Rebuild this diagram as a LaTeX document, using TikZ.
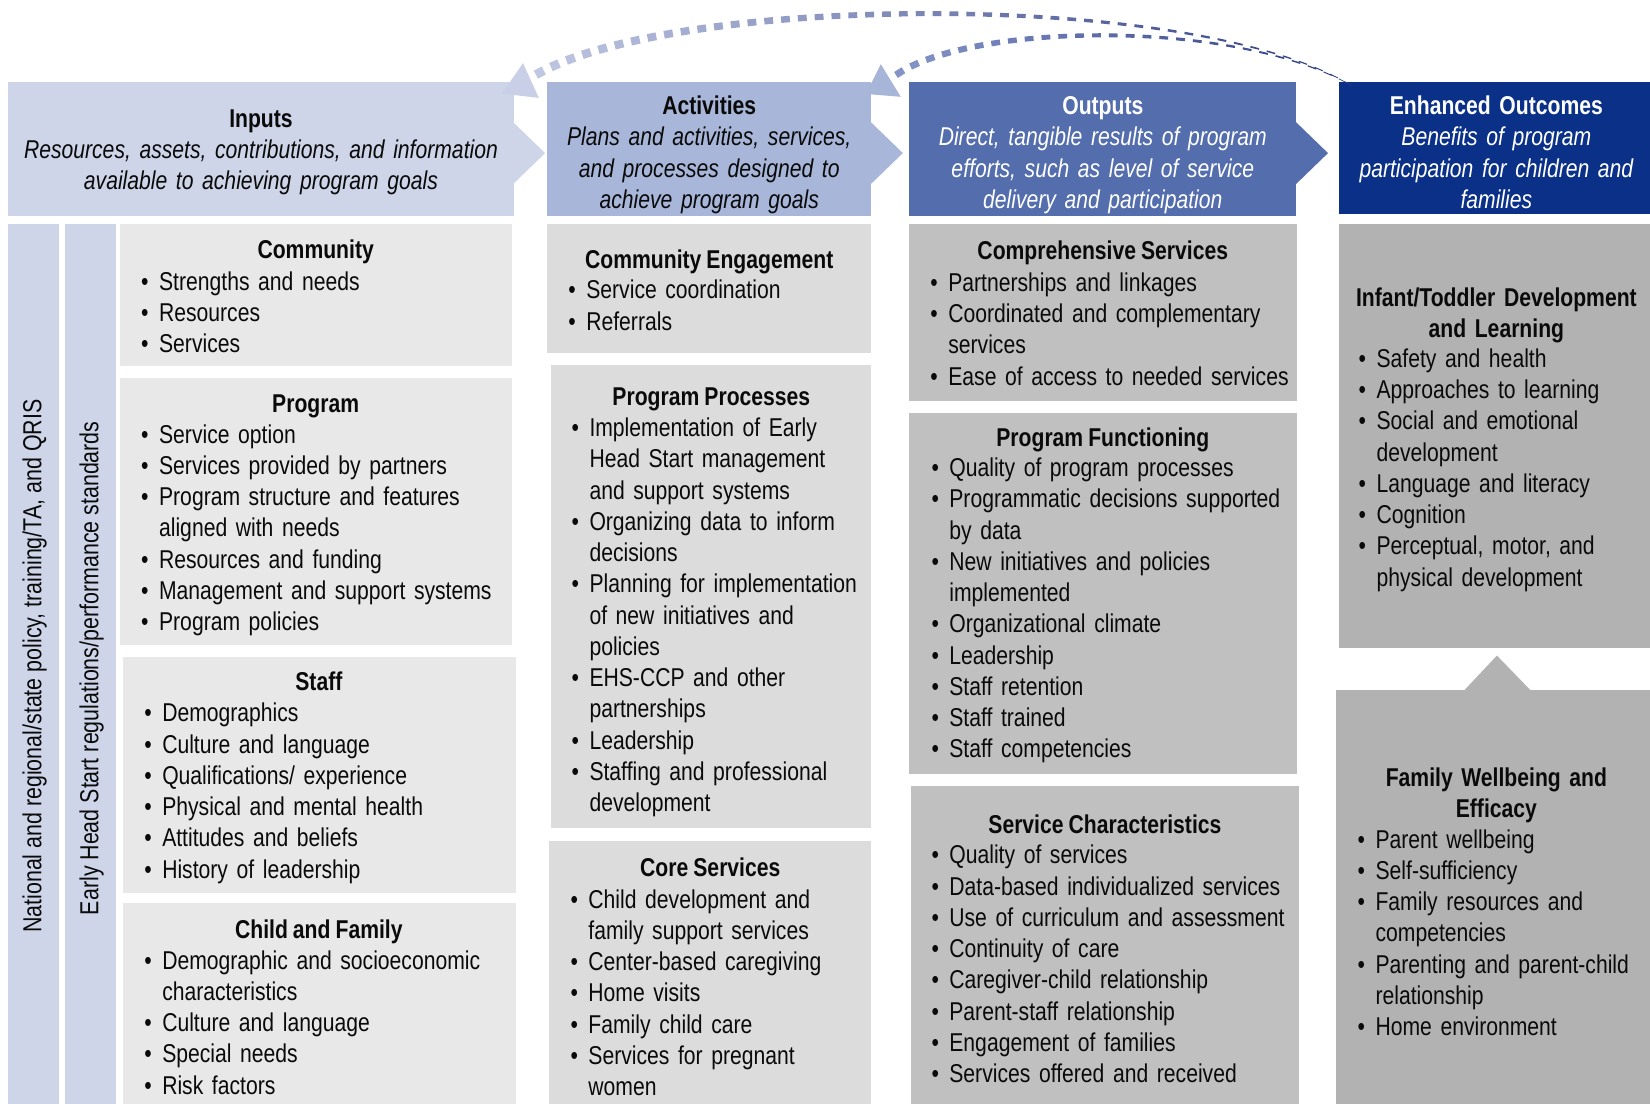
\documentclass[tikz,border=0pt]{standalone}
\usepackage{fontspec}
\setmainfont{Liberation Sans}[FakeStretch=0.82]
\usetikzlibrary{decorations.markings}
\definecolor{hA}{HTML}{CED5E8}
\definecolor{hB}{HTML}{A8B7D9}
\definecolor{hC}{HTML}{536DAD}
\definecolor{hD}{HTML}{0A3088}
\definecolor{gA}{HTML}{E8E8E8}
\definecolor{gB}{HTML}{DCDCDC}
\definecolor{gC}{HTML}{C0C0C0}
\definecolor{gD}{HTML}{B2B2B2}
\definecolor{ink}{HTML}{0A0A0A}
\definecolor{arcDark}{HTML}{2B3A80}
\definecolor{arcLightA}{HTML}{BFC7E2}
\definecolor{arcLightB}{HTML}{8594C8}
\definecolor{headA}{HTML}{C8CFE6}
\definecolor{headB}{HTML}{A7B5D8}
\newcommand\bi[1]{\noindent\hangindent=17pt\hangafter=1\hbox to 17pt{\textbullet\hss}#1\par}
\newcommand\txtsize{\fontsize{24.5pt}{29.7pt}\selectfont}
\newcommand\ttlfont{\txtsize\bfseries\spaceskip=4.8pt\relax}
\newcommand\lstfont{\txtsize\spaceskip=4.6pt\relax}
\newcommand\vfont{\fontsize{24.8pt}{29.7pt}\selectfont}
\tikzset{
  cell/.style={anchor=north west, inner sep=0pt, outer sep=0pt, draw=none},
  ttl/.style={anchor=base, inner sep=0pt, font=\ttlfont, text=ink, align=center},
  lst/.style={anchor=base west, inner sep=0pt, font=\lstfont, text=ink, align=left},
  hdtxt/.style={anchor=base, inner sep=0pt, font=\txtsize, align=center},
  vtxt/.style={rotate=90, inner sep=0pt, font=\vfont, text=ink},
  fadearc/.style n args={2}{postaction={decorate}, decoration={markings,
    mark=between positions 0 and 1 step 16pt with {%
      \pgfmathsetmacro\arcF{\pgfkeysvalueof{/pgf/decoration/mark info/distance from start}/\pgfdecoratedpathlength}%
      \pgfmathsetmacro\arcW{0.3+0.5*#2*(1-\arcF)}%
      \pgfmathtruncatemacro\arcP{100*\arcF}%
      \colorlet{dcol}{arcDark!\arcP!#1}%
      \fill[dcol] (-4.2pt,-\arcW pt) rectangle (4.2pt,\arcW pt);}}},
}
\begin{document}
\begin{tikzpicture}[x=1pt,y=-1pt]
\useasboundingbox (0,0) rectangle (1568,1049);
\fill[white] (0,0) rectangle (1568,1049);

% ---------- headers ----------
\node[cell, fill=hA, minimum width=480pt, minimum height=127pt] (inH) at (8,78) {};
\fill[hA] (487.5,116) -- (518,145.5) -- (487.5,175) -- cycle;
\node[hdtxt, text=ink, text width=475pt] (inHt) at (248,121) {{\bfseries Inputs}\\\itshape Resources, assets, contributions, and information\\available to achieving program goals};

\node[cell, fill=hB, minimum width=308pt, minimum height=127pt] (acH) at (520,78) {};
\fill[hB] (827.5,116) -- (858,145.5) -- (827.5,175) -- cycle;
\node[hdtxt, text=ink, text width=300pt] (acHt) at (674,109) {{\bfseries Activities}\\\itshape Plans and activities, services,\\and processes designed to\\achieve program goals};

\node[cell, fill=hC, minimum width=368pt, minimum height=127pt] (ouH) at (864,78) {};
\fill[hC] (1231.5,116) -- (1262,145.5) -- (1231.5,175) -- cycle;
\node[hdtxt, text=white, text width=360pt] (ouHt) at (1048,109) {{\bfseries Outputs}\\\itshape Direct, tangible results of program\\efforts, such as level of service\\delivery and participation};

\node[cell, fill=hD, minimum width=296pt, minimum height=125pt] (enH) at (1272,78) {};
\node[hdtxt, text=white, text width=294pt] (enHt) at (1422,109) {{\bfseries Enhanced Outcomes}\\\itshape Benefits of program\\participation for children and\\families};

% ---------- feedback arcs ----------
\coordinate (a1) at (513,69);
\coordinate (a2) at (855,69);
\coordinate (e1) at ([xshift=10pt,yshift=-2pt]enH.north west);
\path[fadearc={arcLightA}{8}] (a1) .. controls (650,-5) and (1130,-10) .. (e1);
\path[fadearc={arcLightB}{6}] (a2) .. controls (930,22) and (1170,18) .. (e1);
\fill[headA] (497,60) -- (477,89) -- (512,93) -- cycle;
\fill[headB] (837,61) -- (823,89.3) -- (856,92) -- cycle;

% ---------- vertical bars ----------
\node[cell, fill=hA, minimum width=48pt, minimum height=836pt] (bar1) at (8,213) {};
\node[cell, fill=hA, minimum width=48pt, minimum height=836pt] (bar2) at (62,213) {};
\node[vtxt] (bar1t) at (33,633) {National and regional/state policy, training/TA, and QRIS};
\node[vtxt] (bar2t) at (87,635) {Early Head Start regulations/performance standards};

% ---------- Inputs column ----------
\node[cell, fill=gA, minimum width=373pt, minimum height=135pt] (cm) at (114,213) {};
\node[ttl] (cmT) at (300,246) {Community};
\node[lst, text width=360pt] (cmL) at (134,276) {\bi{Strengths and needs}\bi{Resources}\bi{Services}};

\node[cell, fill=gA, minimum width=373pt, minimum height=254pt] (pg) at (114,359) {};
\node[ttl] (pgT) at (300,392) {Program};
\node[lst, text width=360pt] (pgL) at (134,421) {\bi{Service option}\bi{Services provided by partners}\bi{Program structure and features\newline aligned with needs}\bi{Resources and funding}\bi{Management and support systems}\bi{Program policies}};

\node[cell, fill=gA, minimum width=373pt, minimum height=225pt] (st) at (117,624) {};
\node[ttl] (stT) at (303,656) {Staff};
\node[lst, text width=360pt] (stL) at (137,686) {\bi{Demographics}\bi{Culture and language}\bi{Qualifications/ experience}\bi{Physical and mental health}\bi{Attitudes and beliefs}\bi{History of leadership}};

\node[cell, fill=gA, minimum width=373pt, minimum height=191pt] (cf) at (117,858) {};
\node[ttl] (cfT) at (303,892) {Child and Family};
\node[lst, text width=360pt] (cfL) at (137,921) {\bi{Demographic and socioeconomic\newline characteristics}\bi{Culture and language}\bi{Special needs}\bi{Risk factors}};

% ---------- Activities column ----------
\node[cell, fill=gB, minimum width=308pt, minimum height=122pt] (ce) at (520,213) {};
\node[ttl] (ceT) at (674,255) {Community Engagement};
\node[lst, text width=300pt] (ceL) at (540,284) {\bi{Service coordination}\bi{Referrals}};

\node[cell, fill=gB, minimum width=304pt, minimum height=440pt] (pp) at (524,347) {};
\node[ttl] (ppT) at (676,385) {Program Processes};
\node[lst, text width=300pt] (ppL) at (543,415) {\bi{Implementation of Early\newline Head Start management\newline and support systems}\bi{Organizing data to inform\newline decisions}\bi{Planning for implementation\newline of new initiatives and\newline policies}\bi{EHS-CCP and other\newline partnerships}\bi{Leadership}\bi{Staffing and professional\newline development}};

\node[cell, fill=gB, minimum width=306pt, minimum height=250pt] (cs) at (522,799) {};
\node[ttl] (csT) at (675,833) {Core Services};
\node[lst, text width=300pt] (csL) at (542,863) {\bi{Child development and\newline family support services}\bi{Center-based caregiving}\bi{Home visits}\bi{Family child care}\bi{Services for pregnant\newline women}};

% ---------- Outputs column ----------
\node[cell, fill=gC, minimum width=369pt, minimum height=168pt] (co) at (864,213) {};
\node[ttl] (coT) at (1048,247) {Comprehensive Services};
\node[lst, text width=360pt] (coL) at (884,277) {\bi{Partnerships and linkages}\bi{Coordinated and complementary\newline services}\bi{Ease of access to needed services}};

\node[cell, fill=gC, minimum width=369pt, minimum height=344pt] (pf) at (864,392) {};
\node[ttl] (pfT) at (1048,424) {Program Functioning};
\node[lst, text width=360pt] (pfL) at (885,453) {\bi{Quality of program processes}\bi{Programmatic decisions supported\newline by data}\bi{New initiatives and policies\newline implemented}\bi{Organizational climate}\bi{Leadership}\bi{Staff retention}\bi{Staff trained}\bi{Staff competencies}};

\node[cell, fill=gC, minimum width=368pt, minimum height=302pt] (sc) at (866,747) {};
\node[ttl] (scT) at (1050,792) {Service Characteristics};
\node[lst, text width=360pt] (scL) at (885,821) {\bi{Quality of services}\bi{Data-based individualized services}\bi{Use of curriculum and assessment}\bi{Continuity of care}\bi{Caregiver-child relationship}\bi{Parent-staff relationship}\bi{Engagement of families}\bi{Services offered and received}};

% ---------- Enhanced Outcomes column ----------
\node[cell, fill=gD, minimum width=296pt, minimum height=403pt] (it) at (1272,213) {};
\node[ttl, text width=294pt] (itT) at (1422,291) {Infant/Toddler Development\\and Learning};
\node[lst, text width=270pt] (itL) at (1291,349) {\bi{Safety and health}\bi{Approaches to learning}\bi{Social and emotional\newline development}\bi{Language and literacy}\bi{Cognition}\bi{Perceptual, motor, and\newline physical development}};

\node[cell, fill=gD, minimum width=298pt, minimum height=393pt] (fw) at (1270,656) {};
\fill[gD] (1391,656.5) -- (1422.5,623) -- (1455,656.5) -- cycle;
\node[ttl, text width=294pt] (fwT) at (1422,747) {Family Wellbeing and\\Efficacy};
\node[lst, text width=270pt] (fwL) at (1290,806) {\bi{Parent wellbeing}\bi{Self-sufficiency}\bi{Family resources and\newline competencies}\bi{Parenting and parent-child\newline relationship}\bi{Home environment}};
\end{tikzpicture}
\end{document}
